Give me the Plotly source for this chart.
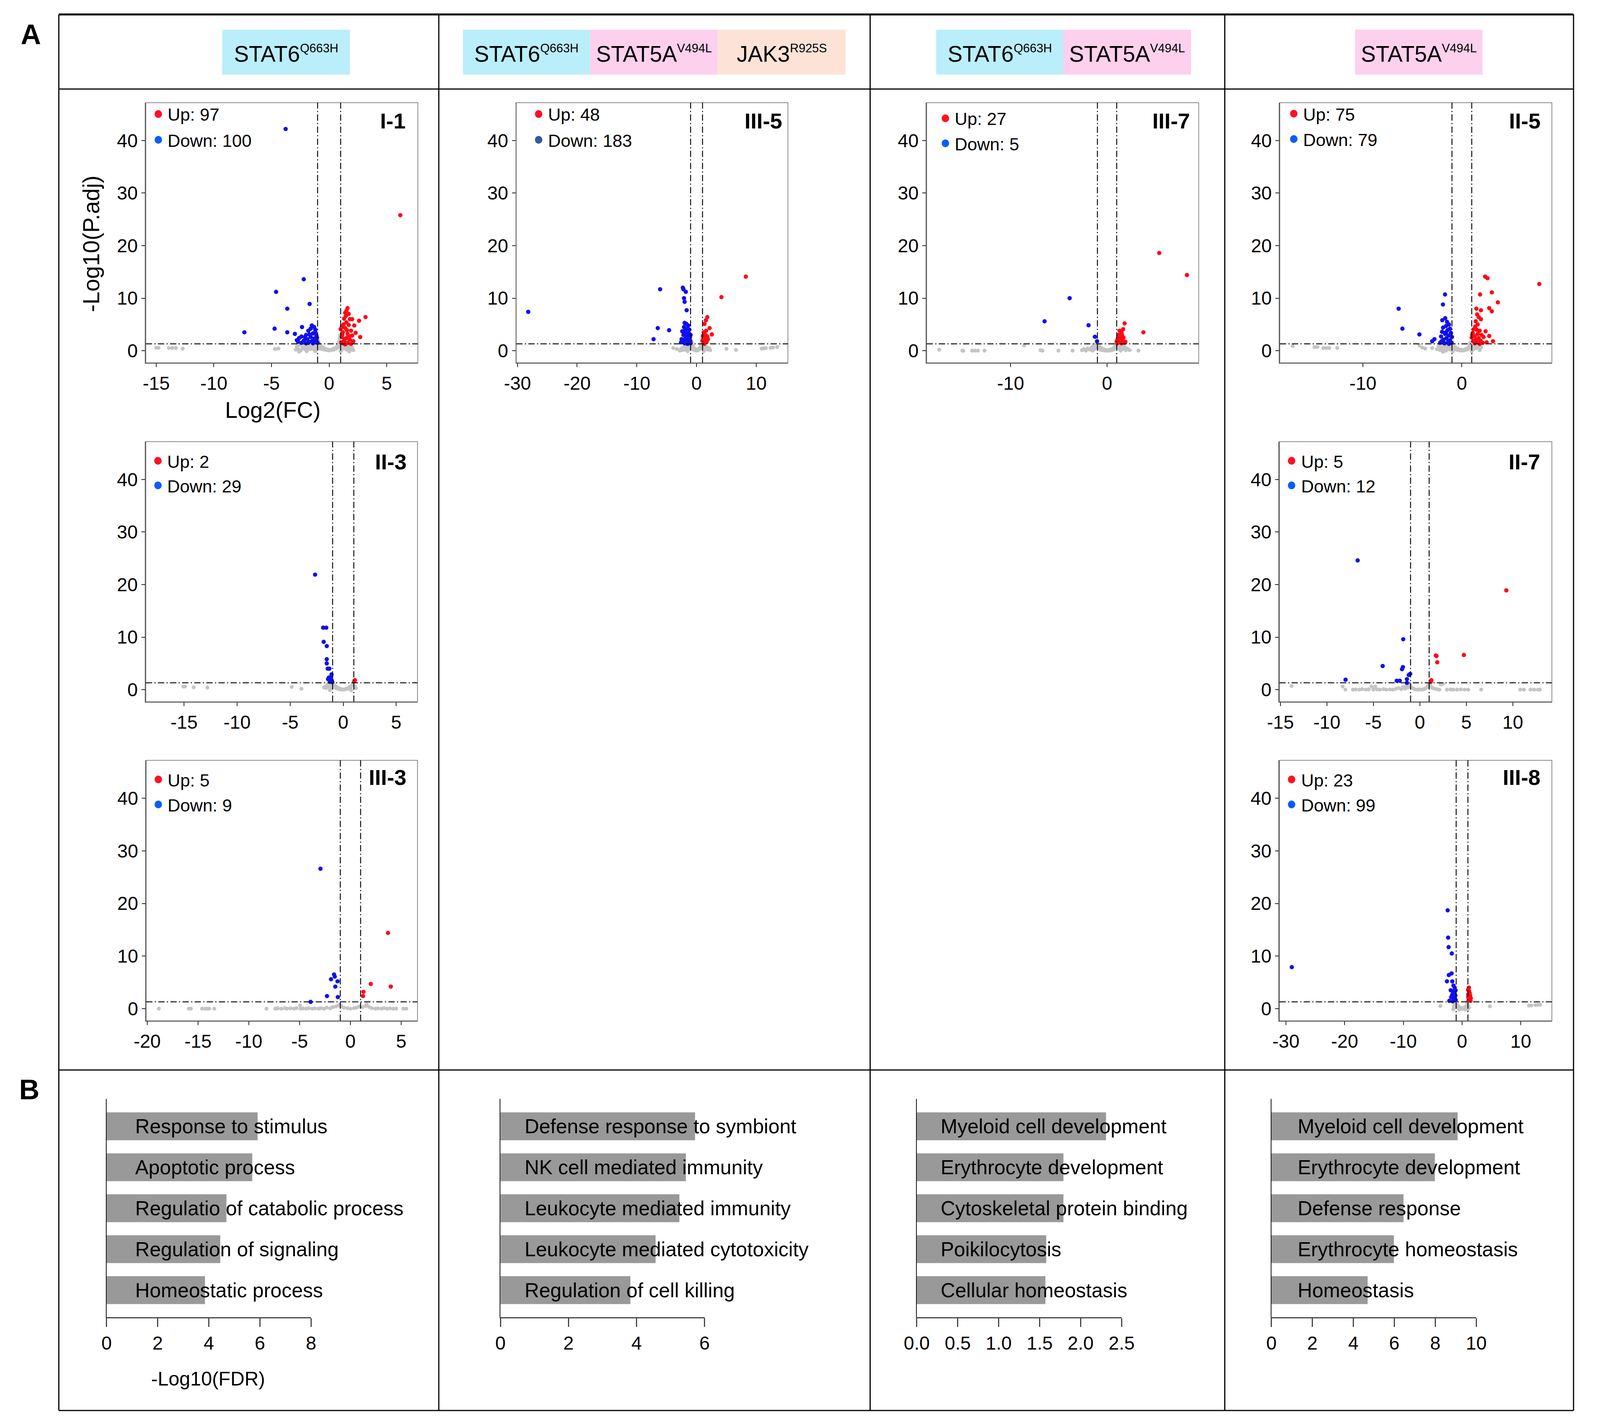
import math
import plotly.graph_objects as go

# The reference geometry below is in reference pixels (4288 x 3644).
# The page is photographed through a 4096-px-wide viewport with an 8 px body margin,
# so the figure is sized to fill exactly that visible area.
REF_W, REF_H = 4288, 3644
VIEW_W, VIEW_H = 4096, 3644
BODY = 8
FW, FH = VIEW_W - BODY, VIEW_H - BODY
SX = VIEW_W / REF_W
FONT = "Liberation Sans, Arial, Helvetica, sans-serif"


def fx(x):
    return (x * SX - BODY) / FW


def fy(y):
    return 1 - (y - BODY) / FH


# ---------------- DATA: volcano plots (log2FC, -log10 P.adj) ----------------
I1_UP = [[6.18, 25.8], [3.16, 6.4], [2.6, 5.7], [2.7, 2.6], [2.18, 4.8], [1.6, 8.1], [1.5, 7.6], [1.4, 7.2],
         [1.7, 7.0], [1.3, 6.1], [1.8, 6.0], [2.0, 6.0], [1.5, 5.4], [1.7, 4.9], [1.1, 4.5], [1.4, 4.3],
         [1.9, 3.8], [1.2, 3.5], [1.6, 3.2], [2.0, 2.9], [1.1, 2.6], [1.5, 2.4], [1.8, 2.1], [1.3, 1.9],
         [1.05, 1.6], [1.6, 1.5], [2.1, 1.8], [1.2, 1.4], [1.9, 1.3], [1.4, 1.2], [1.25, 5.0], [1.55, 3.9],
         [1.15, 3.0], [1.75, 2.7], [1.35, 2.2], [2.3, 3.4], [1.45, 6.6], [1.0, 4.1]]
I1_DOWN = [[-3.77, 42.2], [-2.2, 13.6], [-4.6, 11.2], [-1.69, 8.9], [-3.63, 8.0], [-7.35, 3.5], [-4.73, 4.2],
           [-3.63, 3.5], [-2.35, 4.5], [-2.97, 3.2], [-1.5, 4.8], [-1.3, 4.5], [-1.6, 4.2], [-1.8, 3.8],
           [-1.2, 3.6], [-1.4, 3.3], [-2.0, 3.0], [-1.1, 2.9], [-2.4, 2.7], [-1.6, 2.6], [-1.3, 2.3],
           [-2.6, 2.4], [-1.9, 2.2], [-1.1, 2.0], [-2.2, 1.9], [-1.5, 1.8], [-2.7, 1.7], [-1.2, 1.6],
           [-1.8, 1.5], [-2.0, 1.4], [-1.4, 1.4], [-1.0, 1.5], [-2.4, 1.5], [-1.7, 3.1], [-1.2, 4.0],
           [-1.05, 2.5], [-1.35, 1.9], [-2.1, 2.6], [-1.75, 1.7], [-2.8, 2.0]]
I1_NS = [[-15.0, 0.55], [-14.8, 0.55], [-13.9, 0.5], [-13.6, 0.5], [-13.3, 0.5], [-12.7, 0.4], [-4.7, 0.3],
         [-4.4, 0.4], [-2.9, 0.2], [-2.8, 0.8], [-2.7, 0.4], [-2.55, 1.1], [-2.45, 0.1], [-2.3, 0.6],
         [-2.2, 1.2], [-2.1, 0.3], [-2.0, 0.9], [-1.9, 0.1], [-1.8, 0.5], [-1.7, 1.1], [-1.6, 0.3],
         [-1.5, 0.7], [-1.4, 1.2], [-1.3, 0.2], [-1.2, 0.9], [-1.1, 0.5], [-1.0, 1.2], [-0.95, 1.9],
         [-0.9, 0.8], [-0.85, 1.4], [-0.8, 0.4], [-0.7, 0.9], [-0.6, 0.3], [-0.5, 0.6], [-0.4, 0.2],
         [-0.3, 0.35], [-0.2, 0.1], [-0.1, 0.2], [0.0, 0.05], [0.1, 0.15], [0.2, 0.1], [0.3, 0.3],
         [0.4, 0.2], [0.5, 0.5], [0.6, 0.4], [0.7, 0.8], [0.75, 1.2], [0.8, 0.6], [0.85, 1.7], [0.9, 2.3],
         [0.95, 2.9], [0.9, 1.1], [1.1, 0.9], [1.2, 0.4], [1.3, 1.1], [1.4, 0.6], [1.5, 0.2], [1.6, 0.9],
         [1.7, 0.4], [1.8, 1.0], [1.9, 0.2], [2.0, 0.6], [2.1, 0.1], [-2.6, -0.2], [-1.95, -0.1],
         [-1.2, -0.1], [1.0, -0.1], [1.75, -0.15]]

III5_UP = [[8.25, 14.1], [4.17, 10.2], [1.8, 6.4], [1.56, 5.8], [1.33, 5.1], [2.18, 4.3], [2.56, 3.1],
           [1.2, 3.5], [1.5, 3.0], [1.8, 2.7], [1.1, 2.3], [1.4, 2.0], [1.7, 1.7], [1.2, 1.5], [1.9, 2.2],
           [1.0, 1.9], [1.3, 1.3], [1.6, 3.8], [1.05, 2.8], [1.45, 2.5]]
III5_DOWN = [[-28.2, 7.4], [-6.1, 11.7], [-2.3, 12.0], [-2.2, 11.7], [-1.8, 11.2], [-2.1, 10.0], [-2.0, 9.3],
             [-1.66, 7.7], [-6.5, 4.3], [-4.6, 3.9], [-7.2, 2.2], [-2.0, 5.3], [-1.7, 5.1], [-1.4, 4.8],
             [-2.1, 4.5], [-1.5, 4.2], [-1.2, 4.0], [-2.4, 3.7], [-1.8, 3.5], [-1.3, 3.3], [-1.0, 3.0],
             [-2.2, 3.0], [-1.6, 2.8], [-1.1, 2.5], [-2.5, 2.2], [-1.9, 2.3], [-1.4, 2.0], [-2.3, 1.8],
             [-1.2, 1.7], [-1.7, 1.5], [-2.0, 1.4], [-1.0, 1.4], [-1.5, 1.3], [-2.6, 1.6], [-1.3, 2.6],
             [-1.9, 4.0], [-1.05, 1.9], [-1.6, 1.9]]
III5_NS = [[-3.9, 0.5], [-3.3, 0.3], [5.0, 0.35], [6.6, 0.15], [10.9, 0.4], [11.3, 0.45], [11.6, 0.5],
           [12.4, 0.55], [12.8, 0.6], [13.5, 0.7], [-2.6, 0.4], [-2.4, 0.1], [-2.2, 0.6], [-2.0, 0.2],
           [-1.9, 0.9], [-1.7, 0.4], [-1.6, 1.1], [-1.4, 0.3], [-1.3, 0.8], [-1.1, 0.5], [-1.0, 1.2],
           [-0.9, 0.7], [-0.8, 1.6], [-0.7, 0.3], [-0.6, 0.9], [-0.5, 0.2], [-0.4, 0.5], [-0.3, 0.1],
           [-0.2, 0.3], [-0.1, 0.05], [0.0, 0.1], [0.1, 0.05], [0.2, 0.2], [0.3, 0.1], [0.4, 0.4],
           [0.5, 0.3], [0.6, 0.7], [0.7, 1.0], [0.8, 0.5], [0.9, 1.3], [0.95, 1.8], [1.1, 0.6], [1.3, 0.9],
           [1.5, 0.3], [1.7, 0.7], [1.9, 0.2], [2.1, 0.5], [2.3, 0.1], [-2.8, 0.0], [-1.5, -0.1], [1.2, -0.1]]

III7_UP = [[5.41, 18.6], [8.28, 14.4], [3.76, 3.5], [1.82, 5.2], [1.67, 4.1], [1.3, 3.8], [1.5, 3.5],
           [1.2, 3.0], [1.4, 2.6], [1.7, 2.5], [1.1, 2.2], [1.6, 2.0], [1.9, 1.7], [1.3, 1.6], [1.0, 1.8],
           [1.8, 1.5], [1.5, 1.4], [1.25, 2.4], [1.55, 3.0], [1.05, 1.4]]
III7_DOWN = [[-3.88, 10.0], [-6.48, 5.6], [-1.92, 4.85], [-1.26, 2.66], [-1.04, 1.8]]
III7_NS = [[-17.4, 0.2], [-15.0, 0.0], [-14.9, 0.0], [-14.0, 0.0], [-13.7, 0.0], [-13.4, 0.0], [-12.7, 0.0],
           [-8.6, 1.0], [-6.9, 0.1], [-6.7, 0.0], [-5.05, 0.0], [-3.57, 0.0], [2.35, 0.1], [3.25, 0.0],
           [-2.6, 0.1], [-2.4, 0.3], [-2.2, 0.0], [-2.0, 0.4], [-1.8, 0.2], [-1.6, 0.6], [-1.4, 0.9],
           [-1.3, 0.3], [-1.2, 1.2], [-1.1, 0.7], [-1.0, 1.4], [-0.9, 0.5], [-0.8, 0.9], [-0.7, 0.2],
           [-0.6, 0.5], [-0.5, 0.1], [-0.4, 0.3], [-0.3, 0.05], [-0.2, 0.2], [-0.1, 0.0], [0.0, 0.1],
           [0.1, 0.0], [0.2, 0.15], [0.3, 0.05], [0.4, 0.25], [0.5, 0.1], [0.6, 0.4], [0.7, 0.2], [0.8, 0.7],
           [0.9, 1.1], [0.95, 1.5], [1.1, 0.5], [1.2, 0.9], [1.35, 0.2], [1.5, 0.7], [1.65, 0.3], [1.8, 0.8],
           [1.95, 0.1], [2.1, 0.4], [-1.5, 0.0], [1.4, 0.0]]

II5_UP = [[7.83, 12.7], [2.35, 14.1], [2.6, 13.8], [3.03, 11.1], [1.84, 10.7], [3.64, 9.2], [2.77, 8.1],
          [3.03, 7.5], [1.47, 8.0], [1.93, 7.7], [1.54, 6.9], [1.7, 6.4], [1.93, 6.0], [1.4, 5.6], [2.4, 3.7],
          [2.77, 2.8], [3.15, 1.8], [1.2, 4.1], [1.5, 4.0], [1.8, 3.8], [1.1, 3.4], [1.6, 3.2], [2.0, 3.0],
          [1.3, 2.8], [1.0, 2.5], [1.7, 2.4], [2.2, 2.6], [1.4, 2.1], [1.9, 1.9], [1.15, 1.8], [1.55, 1.6],
          [2.1, 1.5], [1.3, 1.4], [1.8, 1.3], [2.5, 1.6], [1.05, 3.0], [1.6, 5.0], [1.35, 4.6]]
II5_DOWN = [[-1.7, 10.7], [-1.91, 8.8], [-6.39, 8.0], [-6.01, 4.2], [-4.29, 3.1], [-2.77, 2.2], [-3.0, 1.8],
            [-1.98, 5.8], [-1.68, 6.2], [-1.5, 5.5], [-1.3, 5.0], [-1.6, 4.7], [-1.9, 4.4], [-1.2, 4.2],
            [-1.45, 3.9], [-2.0, 3.6], [-1.1, 3.4], [-1.7, 3.2], [-1.35, 2.9], [-2.1, 2.7], [-1.0, 2.6],
            [-1.55, 2.4], [-1.85, 2.1], [-1.2, 2.0], [-2.05, 1.8], [-1.4, 1.7], [-1.05, 1.5], [-1.75, 1.4],
            [-2.2, 1.5], [-1.3, 1.3], [-1.6, 3.5], [-1.15, 2.9]]
II5_NS = [[-17.1, 0.9], [-14.9, 0.7], [-14.6, 0.7], [-14.0, 0.5], [-13.7, 0.5], [-13.4, 0.5], [-12.6, 0.5],
          [-4.3, 1.0], [-4.0, 0.6], [-3.7, 0.4], [-3.0, 0.5], [1.8, 0.2], [-2.5, 0.3], [-2.35, 0.9],
          [-2.2, 0.1], [-2.1, 0.6], [-1.95, 1.1], [-1.85, 0.3], [-1.7, 0.8], [-1.6, 0.0], [-1.5, 1.2],
          [-1.4, 0.5], [-1.3, 0.9], [-1.2, 0.2], [-1.1, 1.1], [-1.0, 0.6], [-0.95, 1.6], [-0.9, 1.0],
          [-0.8, 0.4], [-0.7, 0.7], [-0.6, 0.3], [-0.5, 0.15], [-0.4, 0.4], [-0.3, 0.1], [-0.2, 0.05],
          [-0.1, 0.2], [0.0, 0.0], [0.1, 0.1], [0.2, 0.05], [0.3, 0.25], [0.4, 0.15], [0.5, 0.4], [0.6, 0.3],
          [0.7, 0.7], [0.8, 1.0], [0.85, 1.5], [0.9, 0.5], [1.1, 0.8], [1.2, 0.3], [1.35, 1.0], [1.5, 0.5],
          [1.65, 0.9], [1.8, 0.1], [1.95, 0.6], [-1.9, -0.2], [-0.9, -0.1], [1.0, -0.1]]

II3_UP = [[1.1, 1.8], [1.05, 1.6]]
II3_DOWN = [[-2.65, 21.9], [-1.89, 11.8], [-1.6, 11.8], [-1.84, 9.1], [-1.55, 8.3], [-1.55, 5.8], [-1.55, 5.0],
            [-1.46, 4.0], [-1.31, 4.0], [-1.1, 2.9], [-1.43, 2.0], [-1.22, 2.0], [-1.07, 1.7], [-1.15, 2.4],
            [-1.03, 1.4], [-1.25, 1.5], [-1.35, 2.3], [-1.12, 1.9]]
II3_NS = [[-15.07, 0.6], [-14.9, 0.6], [-14.1, 0.45], [-12.8, 0.4], [-4.85, 0.5], [-3.94, 0.15], [-1.8, 0.4],
          [-1.7, 0.6], [-1.6, 0.3], [-1.5, 0.9], [-1.4, 0.5], [-1.3, 1.0], [-1.2, 0.2], [-1.1, 0.7],
          [-1.0, 1.1], [-0.9, 0.5], [-0.8, 0.8], [-0.7, 0.3], [-0.6, 0.5], [-0.5, 0.15], [-0.4, 0.3],
          [-0.3, 0.05], [-0.2, 0.1], [-0.1, 0.0], [0.0, 0.05], [0.1, 0.0], [0.2, 0.1], [0.3, 0.2],
          [0.4, 0.15], [0.5, 0.3], [0.6, 0.5], [0.7, 0.4], [0.8, 0.8], [0.9, 1.1], [0.95, 1.5], [1.1, 0.6],
          [1.2, 0.3], [-1.25, -0.1], [0.75, -0.1]]

III3_UP = [[3.7, 14.4], [2.0, 4.7], [3.97, 4.2], [1.29, 3.2], [1.24, 2.4]]
III3_DOWN = [[-2.95, 26.6], [-1.61, 6.5], [-1.54, 6.1], [-1.91, 5.6], [-1.27, 5.2], [-1.49, 4.2], [-2.31, 2.4],
             [-1.24, 2.2], [-3.92, 1.3]]
III3_NS = [[-18.86, 0.0], [-15.9, 0.0], [-15.7, 0.0], [-14.6, 0.0], [-14.3, 0.0], [-14.1, 0.0], [-13.9, 0.0],
           [-13.4, 0.0], [-8.26, 0.0], [-7.4, 0.0], [-7.15, 0.05], [-6.8, 0.0], [-6.45, 0.1], [-6.25, 0.0],
           [-5.9, 0.05], [-5.55, 0.0], [-5.3, 0.1], [-4.96, 0.6], [-4.9, 0.0], [-4.65, 0.05], [-4.35, 0.0],
           [-4.1, 0.1], [-3.75, 0.0], [-3.5, 0.05], [-3.15, 0.0], [-2.9, 0.1], [-2.6, 0.0], [-2.35, 0.2],
           [-2.0, 0.05], [-1.75, 0.3], [-1.45, 0.4], [-1.2, 0.6], [-1.1, 0.75], [-0.9, 0.5], [-0.65, 0.2],
           [-0.3, 0.1], [0.0, 0.0], [0.35, 0.1], [0.6, 0.2], [0.85, 0.4], [1.2, 0.3], [1.5, 0.5], [1.6, 0.8],
           [1.85, 0.3], [2.1, 0.1], [2.45, 0.0], [2.7, 0.05], [3.05, 0.0], [3.3, 0.1], [3.6, 0.0], [3.9, 0.05],
           [4.2, 0.0], [4.5, 0.0], [5.2, 0.0], [5.5, 0.0]]

II7_UP = [[9.3, 18.9], [1.72, 6.5], [1.79, 6.4], [4.73, 6.6], [1.87, 5.2], [1.24, 1.8], [1.17, 1.5]]
II7_DOWN = [[-6.69, 24.6], [-1.79, 9.6], [-4.0, 4.5], [-1.82, 4.3], [-1.92, 3.9], [-1.04, 3.0], [-1.19, 2.8],
            [-1.39, 2.0], [-2.49, 1.7], [-2.16, 1.7], [-1.39, 1.3], [-7.99, 1.9]]
II7_NS = [[-13.8, 0.7], [-8.3, 0.6], [-8.0, 0.0], [-5.2, 0.6], [-4.8, 0.6], [2.24, 1.0], [2.5, 1.1], [6.6, 0.0],
          [10.8, 0.0], [11.2, 0.0], [11.9, 0.0], [12.3, 0.0], [12.7, 0.0], [12.9, 0.0], [-7.2, 0.0],
          [-6.9, 0.05], [-6.5, 0.0], [-6.2, 0.1], [-5.8, 0.0], [-5.5, 0.05], [-5.0, 0.0], [-4.6, 0.05],
          [-4.3, 0.0], [-3.9, 0.1], [-3.6, 0.0], [-3.2, 0.05], [-2.9, 0.0], [-2.6, 0.15], [-2.3, 0.3],
          [-2.0, 0.1], [-1.8, 0.5], [-1.6, 0.2], [-1.45, 0.8], [-1.3, 0.4], [-1.1, 1.0], [-0.95, 0.6],
          [-0.8, 0.3], [-0.6, 0.1], [-0.4, 0.05], [-0.2, 0.0], [0.0, 0.05], [0.2, 0.0], [0.4, 0.1],
          [0.6, 0.2], [0.8, 0.5], [0.9, 0.9], [1.0, 0.6], [1.15, 1.1], [1.3, 0.4], [1.5, 0.2], [1.8, 0.1],
          [2.1, 0.0], [2.9, 0.0], [3.3, 0.05], [3.6, 0.0], [4.0, 0.0], [4.4, 0.05], [4.8, 0.0], [5.2, 0.0]]

III8_UP = [[1.18, 4.0], [1.18, 3.4], [1.05, 2.7], [1.38, 2.5], [1.05, 2.2], [1.5, 2.0], [1.1, 1.6], [1.3, 3.0],
           [1.25, 1.9], [1.45, 1.5], [1.02, 3.6]]
III8_DOWN = [[-29.0, 7.9], [-2.45, 18.7], [-2.37, 13.5], [-2.29, 11.7], [-1.74, 10.5], [-2.25, 6.4],
             [-1.78, 6.7], [-2.57, 5.2], [-1.66, 5.2], [-1.46, 4.4], [-1.93, 3.5], [-1.26, 4.0], [-1.66, 2.7],
             [-1.14, 2.5], [-2.17, 1.5], [-1.46, 1.7], [-1.07, 1.6], [-1.54, 3.3], [-1.3, 3.0], [-1.85, 2.2],
             [-1.2, 1.9], [-1.6, 1.4], [-1.35, 2.3], [-1.1, 3.5]]
III8_NS = [[-3.7, 0.5], [4.74, 0.45], [11.4, 0.6], [11.8, 0.6], [12.5, 0.7], [12.9, 0.75], [13.3, 0.75],
           [-1.4, 0.4], [-1.3, 0.8], [-1.2, 0.2], [-1.1, 1.0], [-1.0, 0.6], [-0.95, 1.3], [-0.9, 0.3],
           [-0.8, 0.7], [-0.7, 0.2], [-0.6, 0.4], [-0.5, 0.1], [-0.4, 0.25], [-0.3, 0.05], [-0.2, 0.15],
           [-0.1, 0.0], [0.0, 0.05], [0.1, 0.0], [0.2, 0.1], [0.3, 0.05], [0.4, 0.2], [0.5, 0.15], [0.6, 0.35],
           [0.7, 0.25], [0.8, 0.6], [0.9, 0.9], [0.95, 1.2], [1.1, 0.5], [1.2, 0.2], [-1.5, -0.1],
           [-0.5, -0.15], [0.5, -0.15], [1.0, -0.1]]

VOLCANO_NAMES = ["I-1", "III-5", "III-7", "II-5", "II-3", "III-3", "II-7", "III-8"]
UP_COUNTS = [97, 48, 27, 75, 2, 5, 5, 23]
DOWN_COUNTS = [100, 183, 5, 79, 29, 9, 12, 99]
FC_CUT = 1.0
P_CUT = 1.301
Y_TICKS = [0, 10, 20, 30, 40]

# ---------------- DATA: GO enrichment bars (-log10 FDR) ----------------
GO1_TERMS = ["Response to stimulus", "Apoptotic process", "Regulatio of catabolic process",
             "Regulation of signaling", "Homeostatic process"]
GO1_VALS = [5.91, 5.70, 4.69, 4.45, 3.85]
GO2_TERMS = ["Defense response to symbiont", "NK cell mediated immunity", "Leukocyte mediated immunity",
             "Leukocyte mediated cytotoxicity", "Regulation of cell killing"]
GO2_VALS = [5.72, 5.45, 5.26, 4.56, 3.82]
GO3_TERMS = ["Myeloid cell development", "Erythrocyte development", "Cytoskeletal protein binding",
             "Poikilocytosis", "Cellular homeostasis"]
GO3_VALS = [2.31, 1.79, 1.79, 1.58, 1.57]
GO4_TERMS = ["Myeloid cell development", "Erythrocyte development", "Defense response",
             "Erythrocyte homeostasis", "Homeostasis"]
GO4_VALS = [9.09, 7.98, 6.45, 5.98, 4.70]

HEADERS = [
    [("STAT6", "Q663H", "#BAEEFA")],
    [("STAT6", "Q663H", "#BAEEFA"), ("STAT5A", "V494L", "#FDD0ED"), ("JAK3", "R925S", "#FDE3D6")],
    [("STAT6", "Q663H", "#BAEEFA"), ("STAT5A", "V494L", "#FDD0ED")],
    [("STAT5A", "V494L", "#FDD0ED")],
]

# ---------------- LAYOUT (reference-pixel geometry, style only) ----------------
VOLC_DATA = [(I1_UP, I1_DOWN, I1_NS), (III5_UP, III5_DOWN, III5_NS), (III7_UP, III7_DOWN, III7_NS),
             (II5_UP, II5_DOWN, II5_NS), (II3_UP, II3_DOWN, II3_NS), (III3_UP, III3_DOWN, III3_NS),
             (II7_UP, II7_DOWN, II7_NS), (III8_UP, III8_DOWN, III8_NS)]
# box (l, r, t, b), x range, dtick, legend dot dx, up dy, down dy, text dx, label right inset, label dy, down colour
VOLC_STYLE = [
    ((362, 1103, 263, 929), [-15.9, 7.7], 5, 34, 29, 95, 57, 32, 46, "#0A5CFF"),
    ((1371, 2111, 263, 929), [-30.2, 15.3], 10, 61, 29, 95, 84, 14, 46, "#2F58A8"),
    ((2489, 3230, 263, 929), [-18.7, 9.5], 10, 51, 40, 104, 74, 22, 46, "#0A5CFF"),
    ((3451, 4192, 263, 929), [-18.4, 9.1], 10, 38, 28, 93, 61, 29, 46, "#0A5CFF"),
    ((362, 1102, 1131, 1797), [-18.6, 7.0], 5, 33, 49, 112, 56, 27, 51, "#0A5CFF"),
    ((363, 1102, 1947, 2614), [-20.1, 6.6], 5, 33, 49, 113, 56, 29, 43, "#0A5CFF"),
    ((3450, 4192, 1131, 1797), [-15.1, 14.2], 5, 33, 49, 112, 57, 30, 51, "#0A5CFF"),
    ((3450, 4192, 1947, 2614), [-31.1, 15.3], 10, 33, 49, 113, 57, 30, 43, "#0A5CFF"),
]
BAR_DATA = [(GO1_TERMS, GO1_VALS), (GO2_TERMS, GO2_VALS), (GO3_TERMS, GO3_VALS), (GO4_TERMS, GO4_VALS)]
BAR_STYLE = [((255, 812), [0, 8], 2, 75, None), ((1328, 1884), [0, 6], 2, 63, None),
             ((2462, 3020), [0, 2.5], 0.5, 62, ".1f"), ((3428, 3986), [0, 10], 2, 68, None)]
BAR_T, BAR_B = 2814, 3373
HEADER_BOXES = [[(570, 918)], [(1226, 1572), (1572, 1920), (1920, 2268)], [(2515, 2861), (2861, 3209)],
                [(3656, 4003)]]
HB_T, HB_B = 76, 191

# font sizes (CSS px)
F_TICK = 48
F_LEG = 45
F_PLAB = 56
F_TITLE = 58
F_YTITLE = 59
F_BAR = 51.5
F_BTICK = 48
F_BTITLE = 50
F_HEAD = 57
F_SUP = 31
F_AB = 72

fig = go.Figure()
shapes = []
annotations = []
layout_axes = {}

DASH = "16px,6px,3px,6px"


def tick_list(rng, step):
    k0 = math.ceil(rng[0] / step - 1e-9)
    k1 = math.floor(rng[1] / step + 1e-9)
    vals = [k * step for k in range(k0, k1 + 1)]
    return vals, [f"{v:g}" for v in vals]


n = 0
for (up, down, ns), st in zip(VOLC_DATA, VOLC_STYLE):
    n += 1
    (l, r, t, b), xr, dt, ddx, upy, dny, tdx, lri, ldy, dcol = st
    xa = "x" if n == 1 else f"x{n}"
    ya = "y" if n == 1 else f"y{n}"
    for pts, col, sz in ((ns, "#C4C4C4", 10), (down, "#1010F0", 11), (up, "#FF0A14", 11)):
        fig.add_trace(go.Scatter(x=[p[0] for p in pts], y=[p[1] for p in pts], mode="markers",
                                 marker=dict(color=col, size=sz, line=dict(width=0)),
                                 xaxis=xa, yaxis=ya, showlegend=False, hoverinfo="skip", cliponaxis=True))
    axis_common = dict(showgrid=False, zeroline=False, showline=True, linecolor="#222", linewidth=2,
                       ticks="outside", ticklen=9, tickwidth=2, tickcolor="#222",
                       tickfont=dict(size=F_TICK, color="black", family=FONT))
    tv, tt = tick_list(xr, dt)
    layout_axes["xaxis" if n == 1 else f"xaxis{n}"] = dict(domain=[fx(l), fx(r)], range=xr, tickvals=tv,
                                                           ticktext=tt, anchor=ya, **axis_common)
    layout_axes["yaxis" if n == 1 else f"yaxis{n}"] = dict(domain=[fy(b), fy(t)], range=[-2.3, 47.2],
                                                           tickvals=Y_TICKS, anchor=xa, **axis_common)
    shapes.append(dict(type="rect", xref=f"{xa} domain", yref=f"{ya} domain", x0=0, x1=1, y0=0, y1=1,
                       line=dict(color="#8A8A8A", width=2)))
    for xv in (-FC_CUT, FC_CUT):
        shapes.append(dict(type="line", xref=xa, yref=f"{ya} domain", x0=xv, x1=xv, y0=0, y1=1,
                           line=dict(color="#111", width=2.5, dash=DASH)))
    shapes.append(dict(type="line", xref=f"{xa} domain", yref=ya, x0=0, x1=1, y0=P_CUT, y1=P_CUT,
                       line=dict(color="#111", width=2.5, dash=DASH)))
    # legend dots + text
    for dy, col, txt in ((upy, "#FF1020", f"Up: {UP_COUNTS[n-1]}"), (dny, dcol, f"Down: {DOWN_COUNTS[n-1]}")):
        shapes.append(dict(type="circle", xref="paper", yref="paper", xsizemode="pixel", ysizemode="pixel",
                           xanchor=fx(l + ddx), yanchor=fy(t + dy), x0=-10 * SX, x1=10 * SX, y0=-10, y1=10,
                           fillcolor=col, line=dict(width=0)))
        annotations.append(dict(xref="paper", yref="paper", x=fx(l + tdx), y=fy(t + dy + 2), text=txt,
                                showarrow=False, xanchor="left", yanchor="middle",
                                font=dict(size=F_LEG, color="black", family=FONT)))
    annotations.append(dict(xref="paper", yref="paper", x=fx(r - lri), y=fy(t + ldy),
                            text=f"<b>{VOLCANO_NAMES[n-1]}</b>", showarrow=False, xanchor="right",
                            yanchor="middle", font=dict(size=F_PLAB, color="black", family=FONT)))

# axis titles on I-1
annotations.append(dict(xref="paper", yref="paper", x=fx(214), y=fy(624), text="-Log10(P.adj)", textangle=-90,
                        showarrow=False, xanchor="center", yanchor="middle",
                        font=dict(size=F_YTITLE, color="black", family=FONT)))
annotations.append(dict(xref="paper", yref="paper", x=fx(708), y=fy(1050), text="Log2(FC)",
                        showarrow=False, xanchor="center", yanchor="middle",
                        font=dict(size=F_TITLE, color="black", family=FONT)))

# bar charts
for (terms, vals), st in zip(BAR_DATA, BAR_STYLE):
    n += 1
    (l, r), xr, dt, tdx, tf = st
    xa, ya = f"x{n}", f"y{n}"
    ypos = list(range(len(terms)))
    fig.add_trace(go.Bar(x=vals, y=ypos, orientation="h", width=0.68,
                         marker=dict(color="#999999", line=dict(width=0)),
                         xaxis=xa, yaxis=ya, showlegend=False, hoverinfo="skip"))
    xd = dict(domain=[fx(l), fx(r)], range=xr, dtick=dt, tick0=0, anchor=ya, showgrid=False, zeroline=False,
              showline=True, linecolor="#444", linewidth=3, ticks="outside", ticklen=22, tickwidth=2.5,
              tickcolor="#444", tickfont=dict(size=F_BTICK, color="black", family=FONT))
    if tf:
        xd["tickformat"] = tf
    layout_axes[f"xaxis{n}"] = xd
    layout_axes[f"yaxis{n}"] = dict(domain=[fy(BAR_B), fy(BAR_T)], range=[4.66, -0.67], anchor=xa,
                                    showgrid=False, zeroline=False, showline=True, linecolor="#111",
                                    linewidth=2, ticks="", showticklabels=False)
    for i, term in enumerate(terms):
        annotations.append(dict(xref=xa, yref=ya, x=0, y=i, xshift=tdx * SX, text=term, showarrow=False,
                                xanchor="left", yanchor="middle",
                                font=dict(size=F_BAR, color="black", family=FONT)))

annotations.append(dict(xref="paper", yref="paper", x=fx(532), y=fy(3531), text="-Log10(FDR)",
                        showarrow=False, xanchor="center", yanchor="middle",
                        font=dict(size=F_BTITLE, color="black", family=FONT)))

# header boxes
for boxes, items in zip(HEADER_BOXES, HEADERS):
    for (x0, x1), (gene, mut, col) in zip(boxes, items):
        shapes.append(dict(type="rect", xref="paper", yref="paper", x0=fx(x0), x1=fx(x1), y0=fy(HB_B),
                           y1=fy(HB_T), fillcolor=col, line=dict(width=0), layer="below"))
        annotations.append(dict(xref="paper", yref="paper", x=fx((x0 + x1) / 2), y=fy(138),
                                text=f"{gene}<sup><span style='font-size:{F_SUP}px'>{mut}</span></sup>",
                                showarrow=False, xanchor="center", yanchor="middle",
                                font=dict(size=F_HEAD, color="black", family=FONT)))

# frame lines
FL, FR, FT, FB = 125, 4251, 37, 3612


def hline(y, w=3):
    shapes.append(dict(type="line", xref="paper", yref="paper", x0=fx(FL), x1=fx(FR), y0=fy(y), y1=fy(y),
                       line=dict(color="black", width=w)))


def vline(x, w=3):
    shapes.append(dict(type="line", xref="paper", yref="paper", x0=fx(x), x1=fx(x), y0=fy(FT), y1=fy(FB),
                       line=dict(color="black", width=w)))


hline(FT, 5)
hline(228)
hline(2740)
hline(FB)
for xv in (FL, 1160, 2335, 3301, FR):
    vline(xv)

annotations.append(dict(xref="paper", yref="paper", x=fx(49), y=fy(88), text="<b>A</b>", showarrow=False,
                        xanchor="center", yanchor="middle", font=dict(size=F_AB, color="black", family=FONT)))
annotations.append(dict(xref="paper", yref="paper", x=fx(45), y=fy(2790), text="<b>B</b>", showarrow=False,
                        xanchor="center", yanchor="middle", font=dict(size=F_AB, color="black", family=FONT)))

fig.update_layout(width=FW, height=FH, margin=dict(l=0, r=0, t=0, b=0), paper_bgcolor="white",
                  plot_bgcolor="white", shapes=shapes, annotations=annotations, showlegend=False,
                  font=dict(family=FONT, color="black"), **layout_axes)

fig.write_html("out.html")
